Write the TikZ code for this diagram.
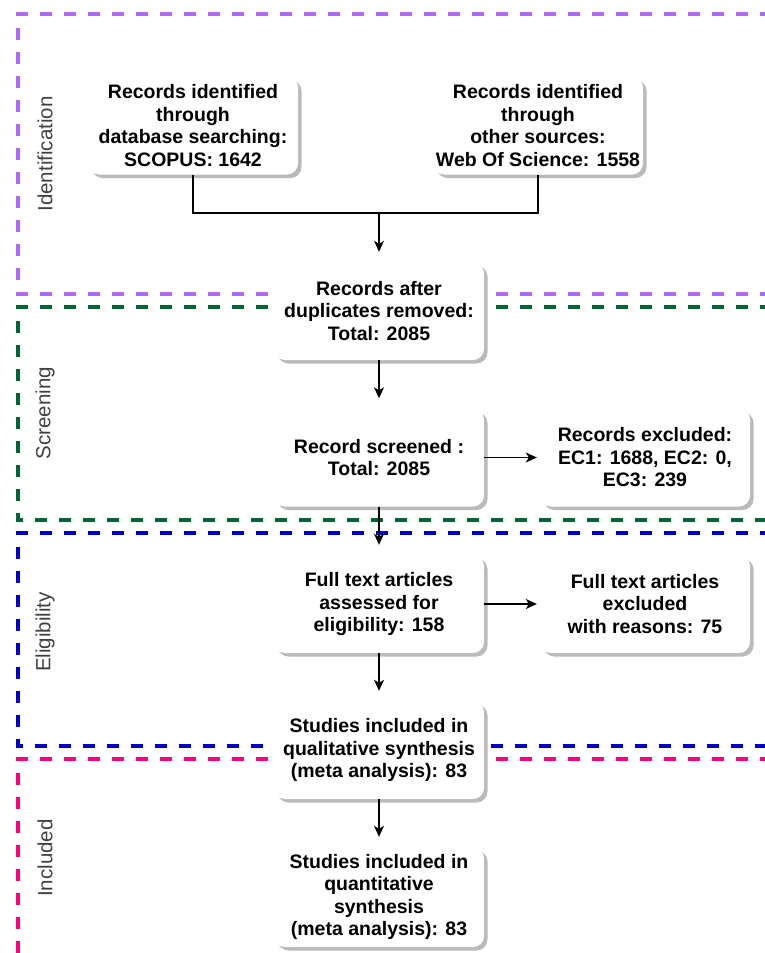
\documentclass[tikz,border=0pt]{standalone}
\usepackage{fontspec}
\setmainfont{Liberation Sans}
\usetikzlibrary{arrows.meta,shadows}
\definecolor{cpur}{HTML}{B266FF}
\definecolor{cgrn}{HTML}{006633}
\definecolor{cblu}{HTML}{0000CC}
\definecolor{cpnk}{HTML}{FF0080}
\begin{document}
\begin{tikzpicture}[x=1pt,y=-1pt,
 box/.style={fill=white, rounded corners=11pt, minimum width=210pt, minimum height=98pt, inner sep=0pt, align=center,
   font=\bfseries\fontsize{19.5}{22.5}\selectfont,
   drop shadow={shadow xshift=3.5pt,shadow yshift=-3.5pt,fill=black!27,opacity=1}},
 frame/.style={line width=3.5pt, dash pattern=on 12pt off 12pt},
 lab/.style={rotate=90, text=black!75, font=\fontsize{20.5}{22}\selectfont},
 arr/.style={-{Stealth[length=11pt,width=10pt,inset=3pt]}, line width=1.4pt},
 ln/.style={line width=1.4pt}]
\useasboundingbox (0,0) rectangle (765,953);
\clip (0,0) rectangle (765,953);
% phase frames
\draw[frame,cpur] (820,14) -- (18,14) -- (18,294) -- (820,294);
\draw[frame,cgrn] (820,307) -- (18,307) -- (18,520) -- (820,520);
\draw[frame,cblu] (820,533) -- (18,533) -- (18,746) -- (820,746);
\draw[frame,cpnk] (820,759) -- (18,759) -- (18,1000);
% phase labels
\node[lab] (lid) at (45,154) {Identification};
\node[lab] (lsc) at (45,413) {Screening};
\node[lab] (lel) at (45,632) {Eligibility};
\node[lab] (lin) at (45,858) {Included};
% boxes
\node[box] (b1) at (193,125.5) {Records identified\\through\\database searching:\\SCOPUS: 1642};
\node[box] (b2) at (538,125.5) {Records identified\\through\\other sources:\\Web Of Science: 1558};
\node[box] (b3) at (379,311) {Records after\\duplicates removed:\\Total: 2085};
\node[box] (b4) at (379,457.5) {Record screened :\\Total: 2085};
\node[box] (b5) at (645,457.5) {Records excluded:\\EC1: 1688, EC2: 0,\\EC3: 239};
\node[box] (b6) at (379,604) {Full text articles\\assessed for\\eligibility: 158};
\node[box] (b7) at (645,604) {Full text articles\\excluded\\with reasons: 75};
\node[box] (b8) at (379,750) {Studies included in\\qualitative synthesis\\(meta analysis): 83};
\node[box, minimum height=100pt] (b9) at (379,897) {Studies included in\\quantitative\\synthesis\\(meta analysis): 83};
% connectors
\coordinate (m) at (379,213);
\draw[ln] (b1.south) |- (m) -| (b2.south);
\draw[arr, shorten >=10pt] (m) -- (b3.north);
\draw[arr, shorten >=10pt] (b3.south) -- (b4.north);
\draw[arr, shorten >=3pt] (b4.east) -- (b5.west);
\draw[arr, shorten >=10pt] (b4.south) -- (b6.north);
\draw[arr, shorten >=3pt] (b6.east) -- (b7.west);
\draw[arr, shorten >=10pt] (b6.south) -- (b8.north);
\draw[arr, shorten >=10pt] (b8.south) -- (b9.north);
\end{tikzpicture}
\end{document}
